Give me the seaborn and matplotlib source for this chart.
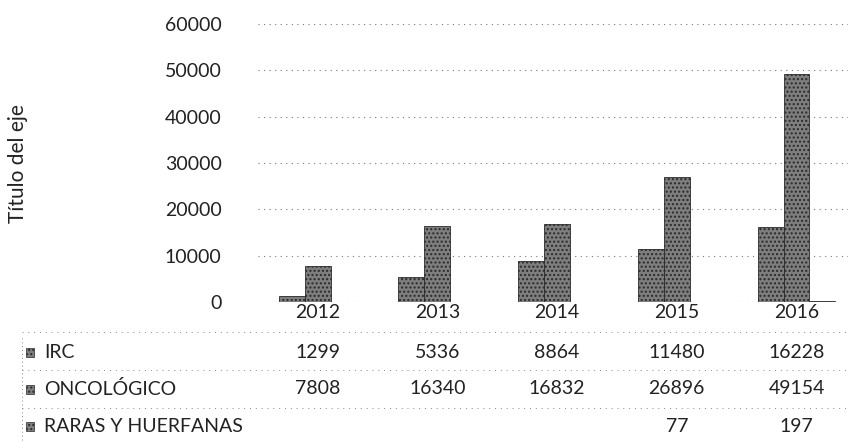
import numpy as np
import pandas as pd
import matplotlib
matplotlib.use("Agg")
from matplotlib import pyplot as plt
from matplotlib.patches import Rectangle
import matplotlib.transforms as mtransforms
import seaborn as sns

# datos
years = ["2012", "2013", "2014", "2015", "2016"]
series = ["IRC", "ONCOLÓGICO", "RARAS Y HUERFANAS"]
irc = [1299, 5336, 8864, 11480, 16228]
onco = [7808, 16340, 16832, 26896, 49154]
raras = [np.nan, np.nan, np.nan, 77, 197]
yticks = [0, 10000, 20000, 30000, 40000, 50000, 60000]

df = pd.DataFrame({
    "year": years * 3,
    "serie": [s for s in series for _ in years],
    "valor": irc + onco + raras,
})

sns.set_style("white")
plt.rcParams["font.family"] = ["Lato", "DejaVu Sans"]

fig = plt.figure(figsize=(8.48, 4.43), dpi=100)
ax = fig.add_axes([0.304, 0.318, 0.696, 0.628])

bar_col = "#7e7e7e"
sns.barplot(data=df.fillna(0), x="year", y="valor", hue="serie", order=years,
            hue_order=series, palette=[bar_col] * 3, width=0.65, gap=0,
            legend=False, ax=ax, saturation=1)
for p in ax.patches:
    p.set_hatch("....")
    p.set_edgecolor("#2a2a2a")
    p.set_linewidth(0.6 if p.get_height() > 0 else 0)

ax.set_ylim(0, 60000)
ax.set_xlim(-0.5, 4.43)
ax.set_yticks(yticks)
ax.set_yticklabels([str(v) for v in yticks], fontsize=14, color="#222222")
ax.tick_params(axis="y", length=0, pad=26)
ax.set_xticks([])
ax.set_xlabel("")
ax.set_ylabel("")
for s in ax.spines.values():
    s.set_visible(False)
ax.yaxis.grid(True, linestyle=(0, (1, 4)), color="#777777", linewidth=0.8)
ax.set_axisbelow(True)

fig.text(0.021, 0.63, "Título del eje", rotation=90, ha="center", va="center",
         fontsize=15, color="#222222")

# tabla de datos debajo del eje
trans = mtransforms.blended_transform_factory(ax.transData, fig.transFigure)
row_y = [1 - 312 / 443, 1 - 352 / 443, 1 - 389 / 443, 1 - 426 / 443]
for i, yr in enumerate(years):
    ax.text(i, row_y[0], yr, transform=trans, ha="center", va="center",
            fontsize=14, color="#222222")
for r, vals in enumerate([irc, onco, raras]):
    for i, v in enumerate(vals):
        if not np.isnan(v):
            ax.text(i, row_y[r + 1], str(int(v)), transform=trans, ha="center",
                    va="center", fontsize=14, color="#222222")
    fig.add_artist(Rectangle((26 / 848, row_y[r + 1] - 0.012), 0.01, 0.022,
                             transform=fig.transFigure, facecolor=bar_col,
                             hatch="....", edgecolor="#2a2a2a", linewidth=0.5))
    fig.text(44 / 848, row_y[r + 1], series[r], ha="left", va="center",
             fontsize=14, color="#222222")

# lineas punteadas de la tabla
for yy in [1 - 332 / 443, 1 - 370 / 443, 1 - 408 / 443]:
    fig.add_artist(plt.Line2D([22 / 848, 1], [yy, yy], transform=fig.transFigure,
                              linestyle=(0, (1, 5)), color="#888888", linewidth=0.7))
fig.add_artist(plt.Line2D([22 / 848, 22 / 848], [1 - 440 / 443, 1 - 338 / 443],
                          transform=fig.transFigure, linestyle=(0, (1, 3)),
                          color="#888888", linewidth=0.7))

fig.savefig("out.png", dpi=100)
